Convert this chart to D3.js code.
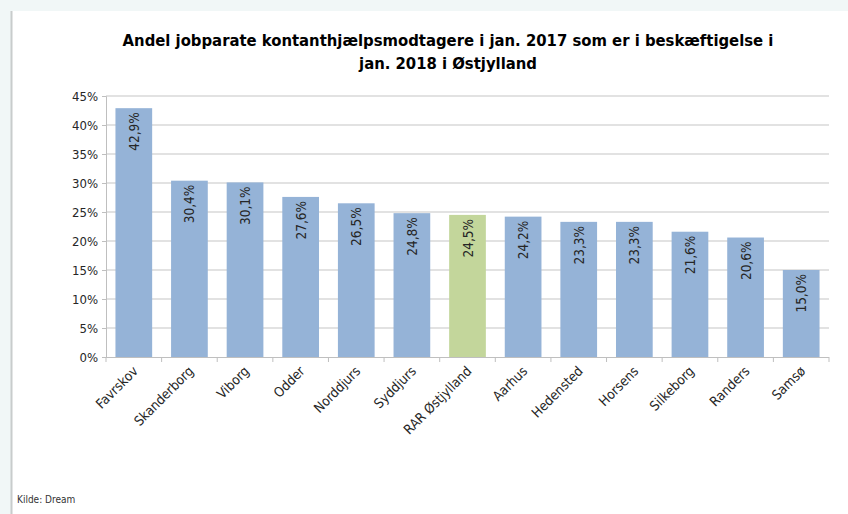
<!DOCTYPE html>
<html>
<head>
<meta charset="utf-8">
<script src="https://cdn.jsdelivr.net/npm/d3@7"></script>
<style>
  body { margin: 0; background: #f1f7f7; }
  svg { display: block; }
  text { font-family: "Liberation Sans Narrow", "DejaVu Sans Condensed", "Open Sans", sans-serif; fill: #262626; }
</style>
</head>
<body>
<svg width="848" height="514"></svg>
<script>
var categories = ["Favrskov", "Skanderborg", "Viborg", "Odder", "Norddjurs", "Syddjurs", "RAR Østjylland",
                  "Aarhus", "Hedensted", "Horsens", "Silkeborg", "Randers", "Samsø"];
var shares = [42.9, 30.4, 30.1, 27.6, 26.5, 24.8, 24.5, 24.2, 23.3, 23.3, 21.6, 20.6, 15.0];
var highlight = "RAR Østjylland";
var yTicks = [0, 5, 10, 15, 20, 25, 30, 35, 40, 45];
var titleLines = ["Andel jobparate kontanthjælpsmodtagere i jan. 2017 som er i beskæftigelse i",
                  "jan. 2018 i Østjylland"];
var source = "Kilde: Dream";

var svg = d3.select("svg");

// white page area with a grey edge on the left
svg.append("rect").attr("x", 12).attr("y", 11).attr("width", 836).attr("height", 503).attr("fill", "#fff");
svg.append("line").attr("x1", 11.5).attr("y1", 11).attr("x2", 11.5).attr("y2", 514)
  .attr("stroke", "#c8cccc").attr("stroke-width", 2);

var plotLeft = 106, plotRight = 829, plotTop = 96, plotBottom = 357;

var x = d3.scaleBand().domain(categories).range([plotLeft, plotRight]).paddingInner(0.34).paddingOuter(0.17);
var y = d3.scaleLinear().domain([0, 45]).range([plotBottom, plotTop]);

// title
svg.append("g").selectAll("text").data(titleLines).enter().append("text")
  .attr("x", 448).attr("y", function(d, i) { return 46 + i * 23; })
  .attr("text-anchor", "middle")
  .attr("font-size", "16.5px").attr("font-weight", "bold")
  .style("fill", "#000")
  .text(function(d) { return d; });

// gridlines
svg.append("g").selectAll("line").data(yTicks.slice(1)).enter().append("line")
  .attr("x1", plotLeft).attr("x2", plotRight)
  .attr("y1", function(d) { return y(d); }).attr("y2", function(d) { return y(d); })
  .attr("stroke", "#d9d9d9").attr("stroke-width", 1.5);

// y axis
var yAxis = svg.append("g").attr("transform", "translate(" + plotLeft + ",0)")
  .call(d3.axisLeft(y).tickValues(yTicks).tickSize(4).tickPadding(4)
        .tickFormat(function(d) { return d + "%"; }));
yAxis.select(".domain").attr("stroke", "#bfbfbf");
yAxis.selectAll(".tick line").attr("stroke", "#bfbfbf");
yAxis.selectAll("text").attr("font-size", "13px").attr("font-family", null).style("fill", "#262626");

// bars
svg.append("g").selectAll("rect").data(shares).enter().append("rect")
  .attr("x", function(d, i) { return x(categories[i]); })
  .attr("y", function(d) { return y(d); })
  .attr("width", x.bandwidth())
  .attr("height", function(d) { return plotBottom - y(d); })
  .attr("fill", function(d, i) { return categories[i] === highlight ? "#c3d69b" : "#95b3d7"; });

// value labels, vertical inside top of bar
svg.append("g").selectAll("text").data(shares).enter().append("text")
  .attr("transform", function(d, i) {
    return "translate(" + (x(categories[i]) + x.bandwidth() / 2 + 5) + "," + (y(d) + 4) + ") rotate(-90)";
  })
  .attr("text-anchor", "end")
  .attr("font-size", "13.5px")
  .text(function(d) { return d.toFixed(1).replace(".", ",") + "%"; });

// x axis line and ticks between categories
var bounds = d3.range(categories.length + 1).map(function(i) {
  return plotLeft + i * (plotRight - plotLeft) / categories.length;
});
svg.append("line").attr("x1", plotLeft).attr("x2", plotRight).attr("y1", plotBottom + 0.5).attr("y2", plotBottom + 0.5)
  .attr("stroke", "#bfbfbf");
svg.append("g").selectAll("line").data(bounds).enter().append("line")
  .attr("x1", function(d) { return d; }).attr("x2", function(d) { return d; })
  .attr("y1", plotBottom).attr("y2", plotBottom + 5)
  .attr("stroke", "#bfbfbf");

// category labels rotated -45
svg.append("g").selectAll("text").data(categories).enter().append("text")
  .attr("transform", function(d) {
    return "translate(" + (x(d) + x.bandwidth() / 2 + 5) + "," + (plotBottom + 15) + ") rotate(-45)";
  })
  .attr("text-anchor", "end")
  .attr("font-size", "13.5px")
  .text(function(d) { return d; });

// source
svg.append("text").attr("x", 17).attr("y", 503).attr("font-size", "10px").style("fill", "#333").text(source);
</script>
</body>
</html>
